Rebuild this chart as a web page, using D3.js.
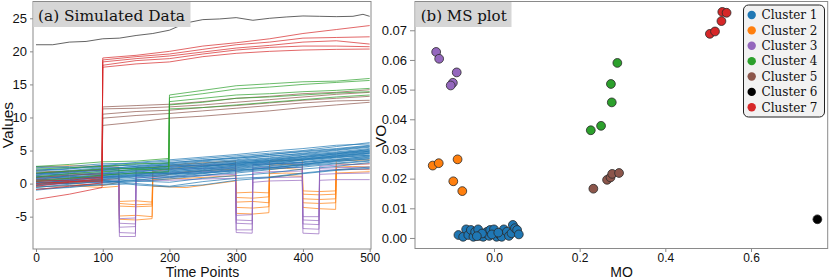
<!DOCTYPE html>
<html><head><meta charset="utf-8">
<script src="https://cdn.jsdelivr.net/npm/d3@7"></script>
<style>body{margin:0;background:#fff}svg{display:block}</style>
</head><body><svg id="c" width="830" height="280"></svg>
<script>
// ---------- Panel (a): simulated time series ----------
const tBlue = [0, 50, 100, 150, 200, 250, 300, 350, 400, 450, 500];
const blueSeries = [
  [2.4, 2.6, 3.0, 3.1, 3.4, 3.8, 4.2, 4.6, 5.0, 5.6, 6.2],
  [2.0, 2.3, 2.5, 2.9, 3.2, 3.5, 4.0, 4.4, 4.9, 5.3, 5.8],
  [1.8, 1.7, 2.2, 2.6, 2.8, 3.3, 3.6, 4.2, 4.5, 5.0, 5.5],
  [1.5, 1.9, 2.0, 2.4, 2.9, 3.0, 3.5, 3.9, 4.4, 4.8, 5.3],
  [1.2, 1.5, 1.9, 2.1, 2.4, 2.9, 3.3, 3.6, 4.1, 4.7, 5.1],
  [1.0, 1.4, 1.6, 2.0, 2.5, 2.7, 3.0, 3.5, 4.0, 4.4, 4.9],
  [0.8, 1.0, 1.4, 1.9, 2.1, 2.6, 2.9, 3.4, 3.8, 4.3, 4.8],
  [0.5, 0.9, 1.3, 1.6, 2.0, 2.3, 2.8, 3.2, 3.6, 4.1, 4.6],
  [0.3, 0.7, 1.1, 1.5, 1.7, 2.2, 2.6, 3.1, 3.5, 4.0, 4.5],
  [0.0, 0.4, 0.9, 1.2, 1.6, 2.0, 2.5, 2.9, 3.3, 3.9, 4.3],
  [-0.3, 0.2, 0.6, 1.0, 1.4, 1.9, 2.3, 2.7, 3.2, 3.7, 4.1],
  [-0.6, -0.1, 0.4, 0.8, 1.3, 1.7, 2.2, 2.6, 3.0, 3.5, 4.0],
  [-1.0, -0.5, 0.1, 0.5, 1.0, 1.5, 2.0, 2.4, 2.8, 3.3, 3.8],
  [1.6, 1.2, 1.5, 1.8, 1.5, 1.9, 2.4, 2.9, 3.6, 4.0, 4.3],
  [0.9, 1.1, 0.8, 1.2, 1.1, 1.6, 1.9, 2.4, 2.9, 3.4, 3.7],
  [0.2, 0.0, 0.3, 0.4, 0.2, 0.8, 1.2, 1.6, 2.2, 2.6, 3.2],
  [-0.5, -0.3, -0.2, 0.0, -0.4, 0.3, 0.8, 1.0, 1.6, 2.1, 2.5],
  [1.3, 1.8, 2.3, 2.6, 3.0, 3.4, 3.9, 4.1, 4.6, 5.1, 5.6],
  [0.6, 1.2, 1.7, 2.2, 2.6, 3.1, 3.4, 3.8, 4.3, 4.6, 5.0],
  [-0.2, 0.6, 1.2, 1.7, 2.3, 2.6, 3.1, 3.5, 3.9, 4.5, 4.9],
  [2.2, 2.0, 2.4, 2.3, 2.7, 2.8, 3.2, 3.7, 4.1, 4.5, 5.2],
  [1.1, 0.8, 1.0, 1.3, 1.8, 2.1, 2.7, 3.0, 3.2, 3.6, 4.2],
  [0.4, 0.5, 0.2, 0.6, 0.9, 1.3, 1.6, 2.1, 2.7, 3.1, 3.5],
  [-0.8, -0.6, -0.1, 0.3, 0.7, 1.2, 1.8, 2.2, 2.5, 3.0, 3.4],
  [1.9, 2.2, 2.8, 2.7, 3.1, 3.6, 3.8, 4.4, 4.8, 5.2, 5.7],
  [0.7, 0.3, 0.5, -0.2, -0.5, -0.2, 0.5, 0.9, 1.5, 2.0, 2.3],
  [1.4, 1.6, 2.1, 2.4, 2.2, 2.5, 3.1, 3.3, 3.7, 4.2, 4.6],
  [-0.1, 0.1, 0.7, 1.1, 1.5, 1.6, 2.1, 2.3, 2.9, 3.5, 3.9],
  [2.6, 2.4, 2.7, 3.2, 3.6, 4.0, 4.4, 4.9, 5.3, 5.8, 6.0],
  [0.1, 0.5, 1.0, 1.4, 1.9, 2.4, 2.8, 3.3, 3.7, 4.2, 4.7]
];

const tOrange = [0, 50, 100, 124, 125, 150, 174, 175, 225, 299, 300, 325, 349, 350, 375, 399, 400, 425, 449, 450, 475, 500];
const orangeSeries = [
  [2.5, 2.7, 2.6, 2.5, -2.7, -2.6, -2.8, 2.4, 3.0, 3.4, -1.4, -1.3, -1.4, 3.4, 3.5, 3.6, -1.1, -1.2, -1.1, 3.6, 3.5, 3.6],
  [2.0, 1.6, 1.2, 1.5, -3.0, -3.2, -3.1, 1.8, 2.6, 2.9, -2.1, -2.2, -2.0, 2.8, 2.9, 2.8, -1.6, -1.7, -1.6, 3.0, 2.9, 3.0],
  [1.2, 1.0, 0.5, 0.8, -3.4, -3.5, -3.4, 1.0, 1.8, 2.2, -2.8, -2.7, -2.9, 2.2, 2.3, 2.1, -2.3, -2.4, -2.3, 2.5, 2.6, 2.5],
  [0.3, 0.0, -0.3, 0.2, -4.9, -4.8, -5.0, 0.6, 0.8, 1.2, -3.6, -3.7, -3.5, 1.5, 1.6, 1.5, -2.9, -3.0, -2.9, 2.1, 2.2, 2.1],
  [-0.5, -0.3, -0.6, -0.4, -5.4, -5.5, -5.3, -0.4, -0.6, 0.4, -4.5, -4.6, -4.4, 1.0, 1.2, 1.1, -3.6, -3.8, -3.9, 1.6, 1.7, 1.8]
];

const tPurple = [0, 50, 100, 124, 125, 149, 150, 200, 250, 299, 300, 324, 325, 350, 399, 400, 424, 425, 450, 500];
const purpleSeries = [
  [1.5, 1.8, 2.0, 2.2, -5.3, -5.2, 2.4, 2.6, 2.8, 3.0, -4.8, -4.7, 2.9, 3.0, 3.1, -5.0, -5.0, 2.6, 2.8, 3.0],
  [1.0, 1.2, 1.5, 1.6, -6.0, -6.1, 1.9, 2.2, 2.3, 2.4, -5.5, -5.6, 2.3, 2.5, 2.4, -5.5, -5.6, 2.3, 2.4, 2.5],
  [0.8, 0.6, 0.9, 1.1, -6.6, -6.5, 1.4, 1.6, 1.8, 2.0, -6.0, -6.1, 1.6, 1.8, 1.9, -6.1, -6.2, 2.0, 2.1, 2.2],
  [0.2, 0.4, 0.6, 0.5, -7.4, -7.5, 0.9, 1.0, 1.2, 1.4, -7.0, -7.0, 0.8, 0.9, 1.0, -6.8, -6.9, 1.4, 1.5, 1.6],
  [-0.3, 0.0, 0.2, 0.3, -8.0, -8.0, 0.5, 0.5, 0.7, 0.8, -7.4, -7.5, 0.2, 0.4, 0.5, -7.5, -7.6, 0.5, 0.6, 0.6]
];

const tGreen = [0, 50, 100, 150, 199, 200, 250, 300, 350, 400, 450, 500];
const greenSeries = [
  [2.6, 2.9, 3.3, 3.4, 3.8, 13.4, 14.1, 14.8, 15.1, 15.4, 15.5, 15.9],
  [2.2, 2.4, 2.6, 3.0, 3.1, 13.0, 13.6, 14.3, 14.6, 15.0, 15.3, 15.6],
  [1.6, 1.9, 2.2, 2.3, 2.6, 12.4, 12.9, 13.4, 13.6, 13.9, 14.1, 14.4],
  [1.0, 1.5, 1.8, 2.1, 2.2, 11.9, 12.3, 12.9, 13.1, 13.4, 13.7, 13.9],
  [0.4, 0.8, 1.3, 1.6, 1.8, 11.3, 11.5, 11.9, 12.3, 12.7, 13.1, 13.4]
];

const tBrown = [0, 50, 99, 100, 150, 200, 250, 300, 350, 400, 450, 500];
const brownSeries = [
  [1.6, 1.9, 2.1, 11.6, 11.8, 12.0, 12.4, 12.9, 13.2, 13.6, 13.8, 14.2],
  [0.9, 1.3, 1.5, 11.3, 11.4, 11.6, 11.9, 12.3, 12.7, 13.1, 13.5, 13.8],
  [0.6, 0.8, 1.2, 10.5, 10.9, 11.1, 11.5, 11.8, 12.2, 12.6, 12.9, 13.2],
  [-0.2, 0.3, 0.6, 9.9, 10.3, 10.6, 11.0, 11.4, 11.8, 12.2, 12.5, 12.6],
  [0.3, 0.1, 0.4, 8.8, 9.3, 9.9, 10.2, 10.6, 11.0, 11.5, 11.9, 12.3]
];

const tRed = [0, 50, 99, 100, 150, 200, 250, 300, 350, 400, 450, 500];
const redSeries = [
  [-0.4, 0.2, 0.8, 19.0, 19.4, 20.0, 20.8, 21.3, 21.9, 22.7, 23.3, 23.9],
  [0.4, 0.5, 1.0, 18.7, 19.2, 19.6, 20.3, 21.0, 21.4, 22.0, 22.1, 22.2],
  [-2.4, -1.6, -0.6, 18.4, 18.9, 19.3, 19.9, 20.5, 20.9, 21.4, 21.6, 21.1],
  [0.0, 0.3, 0.4, 17.9, 18.6, 18.9, 19.6, 20.2, 20.6, 20.8, 20.8, 20.7],
  [-0.9, -0.4, 0.1, 17.6, 18.1, 18.4, 19.2, 19.7, 20.0, 20.2, 20.3, 20.35]
];

const tBlack = [0, 25, 50, 75, 100, 125, 150, 175, 200, 225, 250, 275, 300, 325, 350, 375, 400, 425, 450, 475, 490, 500];
const blackSeries = [
  [21.0, 21.0, 21.4, 21.5, 21.9, 22.0, 22.4, 22.7, 23.2, 24.3, 24.8, 24.9, 25.1, 24.7, 25.0, 25.2, 25.35, 25.3, 25.25, 25.3, 25.6, 25.3]
];

const leftXTicks = [0, 100, 200, 300, 400, 500];
const leftYTicks = [-5, 0, 5, 10, 15, 20, 25];
const leftYTickLabels = ["-5", "0", "5", "10", "15", "20", "25"];

// ---------- Panel (b): MS plot ----------
const clusterNames = ["Cluster 1", "Cluster 2", "Cluster 3", "Cluster 4", "Cluster 5", "Cluster 6", "Cluster 7"];
const clusterColors = ["#1f77b4", "#ff7f0e", "#9467bd", "#2ca02c", "#8c564b", "#000000", "#d62728"];

const moC1 = [-0.083, -0.072, -0.065, -0.060, -0.054, -0.048, -0.044, -0.037, -0.033, -0.025, -0.021, -0.016, -0.011, -0.009, 0.000, 0.006, 0.014, 0.018, 0.023, 0.030, 0.035, 0.041, 0.044, 0.049, 0.054, 0.058, -0.005, -0.028, 0.010, -0.040];
const voC1 = [0.0010, 0.0004, 0.0029, 0.0010, 0.0027, 0.0004, 0.0021, 0.0029, 0.0007, 0.0004, 0.0016, 0.0021, 0.0007, 0.0027, 0.0029, 0.0004, 0.0010, 0.0004, 0.0029, 0.0021, 0.0007, 0.0016, 0.0044, 0.0033, 0.0027, 0.0012, 0.0012, 0.0015, 0.0018, 0.0006];
const moC2 = [-0.143, -0.129, -0.085, -0.095, -0.074];
const voC2 = [0.0244, 0.0252, 0.0265, 0.0191, 0.0158];
const moC3 = [-0.135, -0.128, -0.087, -0.096, -0.101];
const voC3 = [0.0627, 0.0604, 0.0558, 0.0523, 0.0514];
const moC4 = [0.288, 0.273, 0.275, 0.250, 0.226];
const voC4 = [0.0590, 0.0519, 0.0457, 0.0378, 0.0363];
const moC5 = [0.232, 0.264, 0.272, 0.276, 0.292];
const voC5 = [0.0166, 0.0196, 0.0204, 0.0216, 0.0219];
const moC6 = [0.755];
const voC6 = [0.0063];
const moC7 = [0.504, 0.516, 0.531, 0.533, 0.543];
const voC7 = [0.0688, 0.0696, 0.0731, 0.0762, 0.0759];

const rightXTicks = [0.0, 0.2, 0.4, 0.6];
const rightXTickLabels = ["0.0", "0.2", "0.4", "0.6"];
const rightYTicks = [0.00, 0.01, 0.02, 0.03, 0.04, 0.05, 0.06, 0.07];
const rightYTickLabels = ["0.00", "0.01", "0.02", "0.03", "0.04", "0.05", "0.06", "0.07"];

// ---------- Drawing ----------
const svg = d3.select('#c');
const SANS = "'Liberation Sans', Arial, Helvetica, sans-serif";
const SERIF = "'DejaVu Serif', serif";
const SPINE = "#8a8a8a";

const xL = d3.scaleLinear().domain([-4.5, 502]).range([33, 371]);
const yL = d3.scaleLinear().domain([-9.89, 27.54]).range([249, 1.5]);

const gL = svg.append('g');
const line = d3.line().x(d => xL(d[0])).y(d => yL(d[1]));

function drawGroup(times, series, color) {
  series.forEach(vals => {
    gL.append('path')
      .attr('d', line(times.map((t, i) => [t, vals[i]])))
      .attr('fill', 'none').attr('stroke', color)
      .attr('stroke-width', 1).attr('stroke-opacity', 0.7);
  });
}
drawGroup(tOrange, orangeSeries, clusterColors[1]);
drawGroup(tPurple, purpleSeries, clusterColors[2]);
drawGroup(tBlue, blueSeries, clusterColors[0]);
drawGroup(tBrown, brownSeries, clusterColors[4]);
drawGroup(tGreen, greenSeries, clusterColors[3]);
drawGroup(tRed, redSeries, clusterColors[6]);
drawGroup(tBlack, blackSeries, "#222222");

function styleAxis(g, fs) {
  g.select('.domain').remove();
  g.selectAll('.tick line').attr('stroke', SPINE);
  g.selectAll('.tick text').attr('font-family', SANS).attr('font-size', fs).attr('fill', '#111');
}
const axLx = svg.append('g').attr('transform', 'translate(0,249)')
  .call(d3.axisBottom(xL).tickValues(leftXTicks).tickSize(3).tickPadding(1).tickFormat(d => String(d)));
styleAxis(axLx, 12);
const axLy = svg.append('g').attr('transform', 'translate(33,0)')
  .call(d3.axisLeft(yL).tickValues(leftYTicks).tickSize(3).tickPadding(3).tickFormat((d, i) => leftYTickLabels[i]));
styleAxis(axLy, 13);

svg.append('rect').attr('x', 33).attr('y', 1.5).attr('width', 338).attr('height', 247.5)
  .attr('fill', 'none').attr('stroke', SPINE).attr('stroke-width', 1);

// title (a)
svg.append('rect').attr('x', 33.5).attr('y', 2).attr('width', 157).attr('height', 25).attr('fill', '#d6d6d6');
svg.append('text').attr('x', 38).attr('y', 20.5).attr('font-family', SERIF).attr('font-size', 14.5)
  .attr('textLength', 147).attr('lengthAdjust', 'spacingAndGlyphs').attr('fill', '#111')
  .text('(a) Simulated Data');

svg.append('text').attr('x', 202.5).attr('y', 276.8).attr('text-anchor', 'middle')
  .attr('font-family', SANS).attr('font-size', 14).attr('fill', '#111').text('Time Points');
svg.append('text').attr('transform', 'translate(13,125) rotate(-90)').attr('text-anchor', 'middle')
  .attr('font-family', SANS).attr('font-size', 15.5).attr('fill', '#111').text('Values');

// ---- right panel
const xR = d3.scaleLinear().domain([-0.1844, 0.7791]).range([415, 827.7]);
const yR = d3.scaleLinear().domain([-0.00355, 0.0797]).range([248.5, 1.5]);

const axRx = svg.append('g').attr('transform', 'translate(0,248.5)')
  .call(d3.axisBottom(xR).tickValues(rightXTicks).tickSize(3.5).tickPadding(1).tickFormat((d, i) => rightXTickLabels[i]));
styleAxis(axRx, 12);
const axRy = svg.append('g').attr('transform', 'translate(415,0)')
  .call(d3.axisLeft(yR).tickValues(rightYTicks).tickSize(5).tickPadding(3).tickFormat((d, i) => rightYTickLabels[i]));
styleAxis(axRy, 13);

svg.append('rect').attr('x', 415).attr('y', 1.5).attr('width', 412.7).attr('height', 247)
  .attr('fill', 'none').attr('stroke', SPINE).attr('stroke-width', 1);

const clusterMO = [moC1, moC2, moC3, moC4, moC5, moC6, moC7];
const clusterVO = [voC1, voC2, voC3, voC4, voC5, voC6, voC7];
const gR = svg.append('g');
clusterMO.forEach((mo, c) => {
  mo.forEach((m, i) => {
    gR.append('circle').attr('cx', xR(m)).attr('cy', yR(clusterVO[c][i])).attr('r', 4.4)
      .attr('fill', clusterColors[c]).attr('stroke', '#2a2a2a').attr('stroke-width', 0.8);
  });
});

// title (b)
svg.append('rect').attr('x', 415.5).attr('y', 2).attr('width', 96).attr('height', 25).attr('fill', '#d6d6d6');
svg.append('text').attr('x', 420.7).attr('y', 20.5).attr('font-family', SERIF).attr('font-size', 14.5)
  .attr('textLength', 86).attr('lengthAdjust', 'spacingAndGlyphs').attr('fill', '#111')
  .text('(b) MS plot');

svg.append('text').attr('x', 621.5).attr('y', 276.8).attr('text-anchor', 'middle')
  .attr('font-family', SANS).attr('font-size', 14).attr('fill', '#111').text('MO');
svg.append('text').attr('transform', 'translate(386,136) rotate(-90)').attr('text-anchor', 'middle')
  .attr('font-family', SANS).attr('font-size', 15.5).attr('fill', '#111').text('VO');

// legend
const lg = svg.append('g');
lg.append('rect').attr('x', 743.5).attr('y', 5).attr('width', 81).attr('height', 112).attr('rx', 5)
  .attr('fill', '#f2f2f2').attr('stroke', '#222').attr('stroke-width', 1);
clusterNames.forEach((n, i) => {
  const cy = 15 + i * 15.38;
  lg.append('circle').attr('cx', 751.7).attr('cy', cy).attr('r', 4.2).attr('fill', clusterColors[i]);
  lg.append('text').attr('x', 761.5).attr('y', cy + 4.3).attr('font-family', SERIF).attr('font-size', 12)
    .attr('textLength', 56).attr('lengthAdjust', 'spacingAndGlyphs').attr('fill', '#111').text(n);
});
</script>
</body></html>
